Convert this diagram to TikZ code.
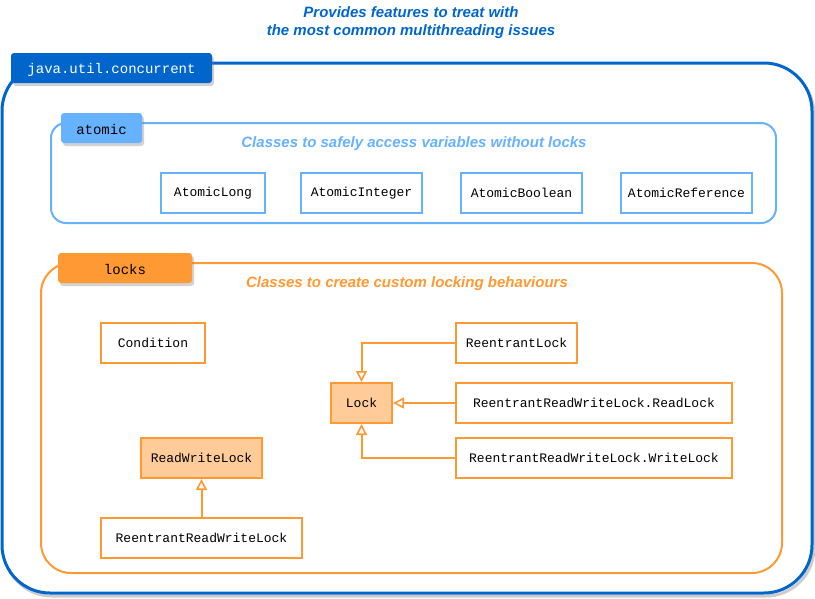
\documentclass[tikz,border=0pt]{standalone}
\usepackage{fontspec}
\setmainfont{Liberation Sans}
\setmonofont{Liberation Mono}
\usetikzlibrary{arrows.meta,shadows}
\definecolor{dblue}{HTML}{0066CC}
\definecolor{lblue}{HTML}{66B2FF}
\definecolor{orng}{HTML}{FF9933}
\definecolor{lorng}{HTML}{FFCC99}
\tikzset{
  ttl/.style={font=\fontsize{15}{18}\selectfont\bfseries\itshape, align=center},
  tab/.style={rounded corners=3pt, inner sep=0pt, font=\fontsize{14}{16}\ttfamily,
    drop shadow={shadow xshift=2pt, shadow yshift=-3pt, opacity=0.35, fill=gray}},
  tabtxt/.style={inner sep=0pt, font=\fontsize{14}{16}\ttfamily},
  cls/.style={draw, line width=2pt, fill=white, inner sep=0pt, minimum height=40pt,
    font=\fontsize{13}{15}\ttfamily},
  grp/.style={line width=2pt, rounded corners=#1},
  inh/.style={draw=orng, line width=2pt, -{Triangle[open,length=11pt,width=11pt,fill=white,line width=1.6pt]}}
}
\begin{document}
\begin{tikzpicture}[x=1pt,y=-1pt]
\useasboundingbox (0,0) rectangle (815,598);
% title
\node[ttl, text=dblue] (title) at (411,23) {Provides features to treat with\\the most common multithreading issues};
% outer container
\draw[grp=48pt, draw=gray!40, line width=3pt] (4,66) rectangle (814,596);
\draw[grp=48pt, draw=dblue, line width=3pt, fill=white] (2,63) rectangle (812,593);
\node[tab, fill=dblue, minimum width=201pt, minimum height=30pt] (juc) at (111.5,68) {};
\node[tabtxt, text=white] (juct) at (111.5,69.5) {java.util.concurrent};
% atomic group
\draw[grp=15pt, draw=lblue] (51,123) rectangle (776,223);
\node[tab, fill=lblue, minimum width=81pt, minimum height=30pt] (atomic) at (101.5,128) {};
\node[tabtxt, text=black] (atomict) at (101.5,129.5) {atomic};
\node[ttl, text=lblue] (atomicsub) at (414,144) {Classes to safely access variables without locks};
\node[cls, draw=lblue, minimum width=104pt] (al) at (213,193) {AtomicLong};
\node[cls, draw=lblue, minimum width=121pt] (ai) at (361.5,193) {AtomicInteger};
\node[cls, draw=lblue, minimum width=121pt] (ab) at (521.5,193) {AtomicBoolean};
\node[cls, draw=lblue, minimum width=131pt] (ar) at (686.5,193) {AtomicReference};
% locks group
\draw[grp=30pt, draw=orng] (41,263) rectangle (782,573);
\node[tab, fill=orng, minimum width=134pt, minimum height=30pt] (locks) at (125,268) {};
\node[tabtxt, text=black] (lockst) at (125,269.5) {locks};
\node[ttl, text=orng] (lockssub) at (407,284) {Classes to create custom locking behaviours};
\node[cls, draw=orng, minimum width=104pt] (cond) at (153,343) {Condition};
\node[cls, draw=orng, minimum width=121pt] (rl) at (516.5,343) {ReentrantLock};
\node[cls, draw=orng, fill=lorng, minimum width=61pt] (lock) at (361.5,403) {Lock};
\node[cls, draw=orng, minimum width=276pt] (rrl) at (594,403) {ReentrantReadWriteLock.ReadLock};
\node[cls, draw=orng, minimum width=276pt] (rwl2) at (594,458) {ReentrantReadWriteLock.WriteLock};
\node[cls, draw=orng, fill=lorng, minimum width=121pt] (rwl) at (201.5,458) {ReadWriteLock};
\node[cls, draw=orng, minimum width=201pt] (rrwl) at (201.5,538) {ReentrantReadWriteLock};
% connectors
\draw[inh] (rl.west) -| (lock.north);
\draw[inh] (rrl.west) -- (lock.east);
\draw[inh] (rwl2.west) -| (lock.south);
\draw[inh] (rrwl.north) -- (rwl.south);
\end{tikzpicture}
\end{document}
